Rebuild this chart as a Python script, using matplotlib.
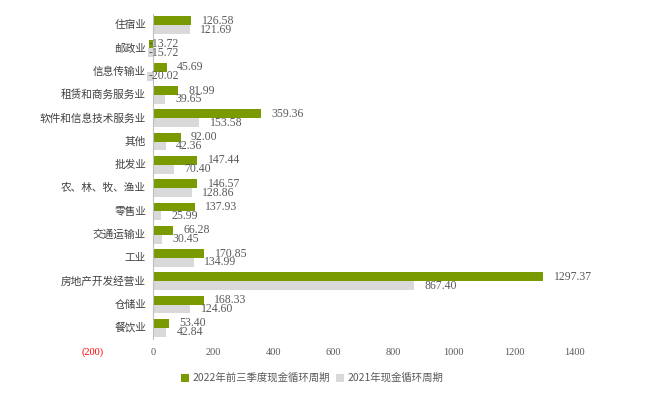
import matplotlib.pyplot as plt
import numpy as np

plt.rcParams['font.family'] = ['Noto Sans CJK SC', 'DejaVu Sans']

categories = ['住宿业', '邮政业', '信息传输业', '租赁和商务服务业', '软件和信息技术服务业', '其他',
              '批发业', '农、林、牧、渔业', '零售业', '交通运输业', '工业', '房地产开发经营业',
              '仓储业', '餐饮业']
cycle_2022 = [126.58, -13.72, 45.69, 81.99, 359.36, 92.00, 147.44, 146.57, 137.93, 66.28,
              170.85, 1297.37, 168.33, 53.40]
cycle_2021 = [121.69, -15.72, -20.02, 39.65, 153.58, 42.36, 70.40, 128.86, 25.99, 30.45,
              134.99, 867.40, 124.60, 42.84]
xticks = [-200, 0, 200, 400, 600, 800, 1000, 1200, 1400]
label_2022 = '2022年前三季度现金循环周期'
label_2021 = '2021年现金循环周期'

green = '#7a9a01'
grey = '#d9d9d9'
num_font = ['Liberation Serif']

fig = plt.figure(figsize=(6.45, 3.99), dpi=100)
ax = fig.add_axes([0.144, 0.149, 0.746, 0.817])

y = np.arange(len(categories))
h = 0.38
b1 = ax.barh(y - h / 2, cycle_2022, height=h, color=green, label=label_2022)
b2 = ax.barh(y + h / 2, cycle_2021, height=h, color=grey, label=label_2021)

# value labels at bar ends
for ys, vals in [(y - h / 2, cycle_2022), (y + h / 2, cycle_2021)]:
    for yy, v in zip(ys, vals):
        ax.annotate(f'{v:.2f}', (max(v, 0), yy), xytext=(7.5 if v > 0 else -3, 0),
                    textcoords='offset points', va='center', ha='left',
                    fontsize=8.5, color='#595959', family=num_font)

# category names sit left of the zero line
for yy, c in zip(y, categories):
    ax.annotate(c, (0, yy), xytext=(-5, 0), textcoords='offset points',
                ha='right', va='center', fontsize=7.7, color='#404040')

ax.set_xlim(-200, 1400)
ax.set_ylim(len(categories) - 0.5, -0.5)
ax.set_yticks([])
ax.set_xticks(xticks)
ax.set_xticklabels([f'({-t})' if t < 0 else str(t) for t in xticks],
                   fontsize=7.5, color='#595959', family=num_font)
ax.get_xticklabels()[0].set_color('red')
ax.tick_params(length=0, pad=6)

for s in ax.spines.values():
    s.set_visible(False)
ax.axvline(0, color='#bfbfbf', linewidth=0.8)

fig.legend(handles=[b1, b2], loc='center', bbox_to_anchor=(312 / 645, 1 - 378 / 399),
           ncol=2, frameon=False, fontsize=7.5, handlelength=0.8, handleheight=0.8,
           handletextpad=0.3, columnspacing=0.6, labelcolor='#595959')

fig.savefig('out.png', dpi=100)
